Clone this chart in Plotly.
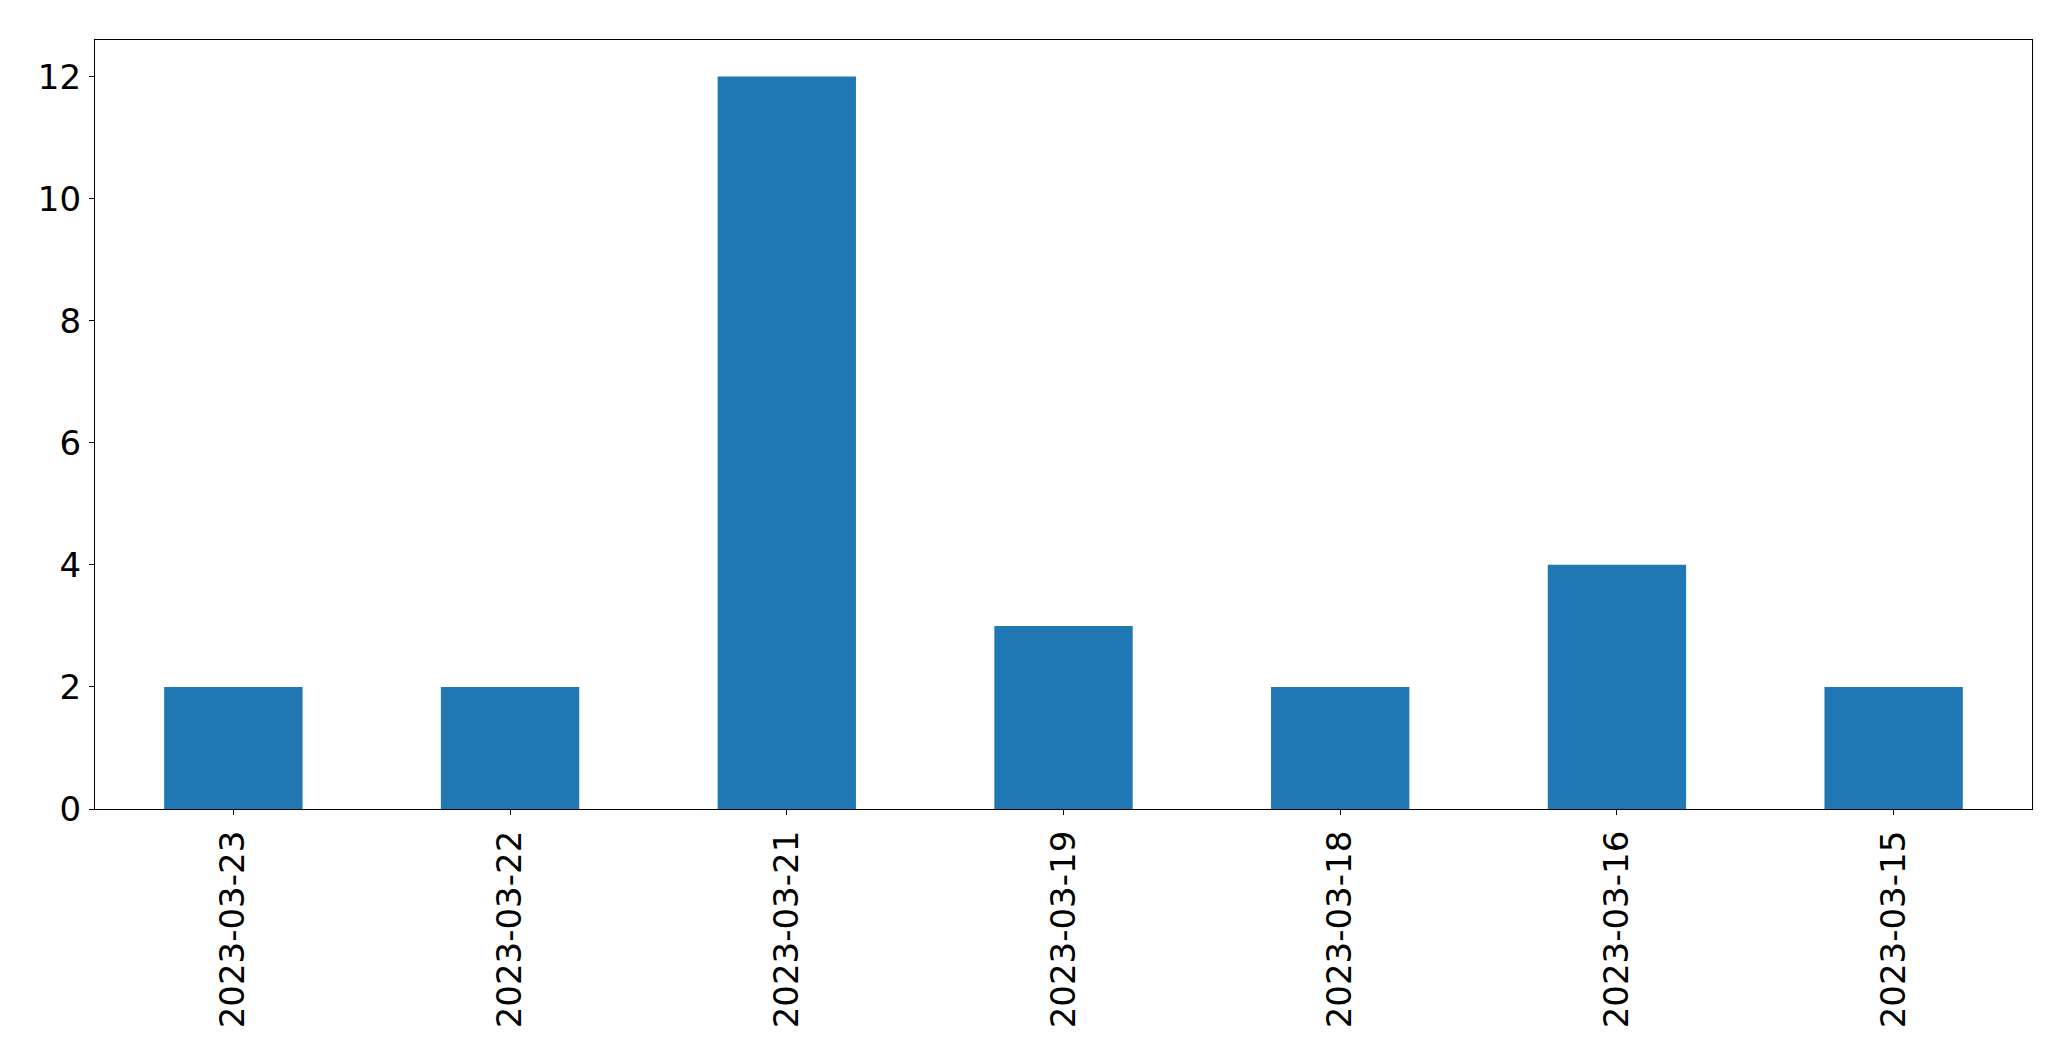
import plotly.graph_objects as go

categories = ["2023-03-23", "2023-03-22", "2023-03-21", "2023-03-19",
              "2023-03-18", "2023-03-16", "2023-03-15"]
values = [2, 2, 12, 3, 2, 4, 2]
y_ticks = [0, 2, 4, 6, 8, 10, 12]

fig = go.Figure(go.Bar(x=list(range(len(categories))), y=values,
                       marker=dict(color="#1f77b4", line=dict(width=0)),
                       width=0.5))

font = dict(family="DejaVu Sans", size=34, color="black")
fig.update_layout(
    width=2071, height=1061,
    margin=dict(l=86.5, r=47, t=31.5, b=260),
    plot_bgcolor="white", paper_bgcolor="white",
    showlegend=False, font=font,
)
fig.update_xaxes(
    range=[-0.5, len(categories) - 0.5],
    tickmode="array", tickvals=list(range(len(categories))), ticktext=categories,
    tickangle=-90, ticks="outside", ticklen=5, tickwidth=1.3, tickcolor="black",
    showline=True, linecolor="black", linewidth=1.3, mirror=True,
    showgrid=False, zeroline=False, tickfont=font, ticklabelstandoff=2,
)
fig.update_yaxes(
    range=[0, 12.6], tickmode="array", tickvals=y_ticks,
    ticks="outside", ticklen=5, tickwidth=1.3, tickcolor="black",
    showline=True, linecolor="black", linewidth=1.3, mirror=True,
    showgrid=False, zeroline=False, tickfont=font, ticklabelstandoff=1,
)
fig.write_html("out.html")
